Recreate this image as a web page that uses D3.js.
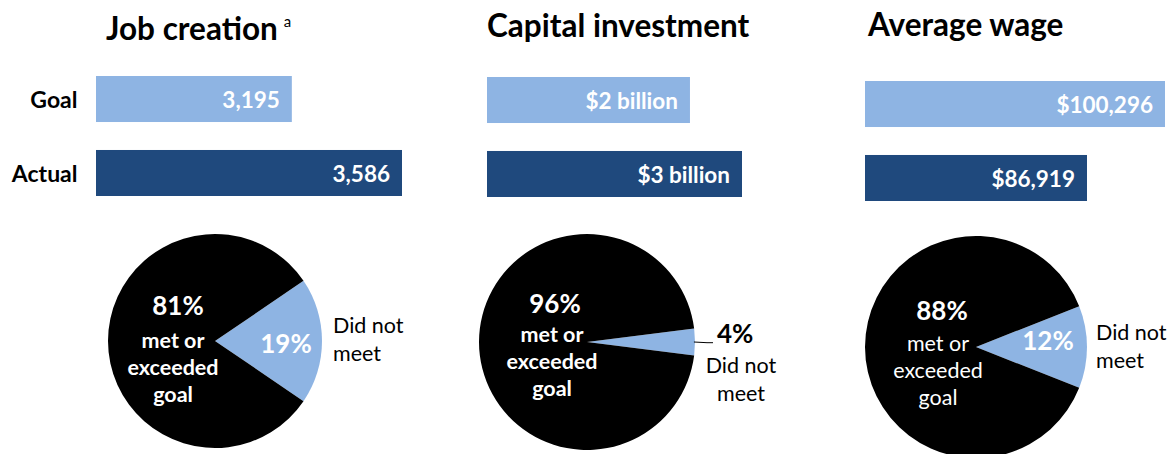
<!DOCTYPE html>
<html>
<head>
<meta charset="utf-8">
<script src="https://cdn.jsdelivr.net/npm/d3@7"></script>
<style>
  html, body { margin: 0; padding: 0; background: #fff; }
  svg { display: block; font-family: Lato, "Open Sans", sans-serif; }
</style>
</head>
<body>
<svg id="chart" width="1168" height="454"></svg>
<script>
// ---------------- data ----------------
const panelTitles = ["Job creation", "Capital investment", "Average wage"];
const titleNotes = ["a", "", ""];
const barCategories = ["Goal", "Actual"];
const goalValues = [3195, 2, 100296];
const actualValues = [3586, 3, 86919];
const goalLabels = ["3,195", "$2 billion", "$100,296"];
const actualLabels = ["3,586", "$3 billion", "$86,919"];
const axisMin = [2500, -1.9, 48850];
const metPct = [81, 96, 88];
const notMetPct = [19, 4, 12];
const metText = ["met or", "exceeded", "goal"];
const notMetText = ["Did not", "meet"];

// ---------------- layout ----------------
const LIGHT = "#8EB4E3", DARK = "#1F497D";
const panelLayout = [
  {titleX: 106, titleY: 40, barX: 96, barW: 306, barY: 76,
   cx: 215, cy: 341, r: 107, pct: [-37, -26], lines: [-42, 7], inBold: true,
   slice: "inside", sliceLbl: [71, 12], dnm: [118, -8], dnmAnchor: "start"},
  {titleX: 487, titleY: 37, barX: 487, barW: 255, barY: 77,
   cx: 587, cy: 342, r: 108, pct: [-32, -29], lines: [-35, 0], inBold: true,
   slice: "outside", sliceLbl: [130, 0.7], dnm: [154, 31], dnmAnchor: "middle"},
  {titleX: 868, titleY: 36, barX: 865, barW: 300, barY: 81,
   cx: 976, cy: 347, r: 111, pct: [-34, -27], lines: [-38, 4], inBold: false,
   slice: "inside", sliceLbl: [72, 3], dnm: [120, -7], dnmAnchor: "start"}
];

const svg = d3.select("#chart");
svg.append("rect").attr("width", 1168).attr("height", 454).attr("fill", "#fff");

// row labels (left of first panel)
const yRow = d3.scaleBand().domain(barCategories)
  .range([panelLayout[0].barY, panelLayout[0].barY + 120]).paddingInner(0.378).paddingOuter(0);
svg.append("g").selectAll("text").data(barCategories).join("text")
  .attr("x", 77.5)
  .attr("y", d => yRow(d) + yRow.bandwidth() / 2)
  .attr("dy", "0.4em")
  .attr("text-anchor", "end")
  .attr("font-weight", 700)
  .attr("font-size", 23)
  .attr("fill", "#000")
  .text(d => d);

panelTitles.forEach((title, i) => {
  const L = panelLayout[i];
  const g = svg.append("g");

  // title
  const t = g.append("text")
    .attr("x", L.titleX).attr("y", L.titleY)
    .attr("font-weight", 700).attr("font-size", 31.5).attr("fill", "#000")
    .text(title);
  if (titleNotes[i]) {
    t.append("tspan").attr("dx", 6).attr("dy", -13)
      .attr("font-weight", 400).attr("font-size", 15).text(titleNotes[i]);
  }

  // bars
  const x = d3.scaleLinear()
    .domain([axisMin[i], d3.max([goalValues[i], actualValues[i]])])
    .range([L.barX, L.barX + L.barW]);
  const y = d3.scaleBand().domain(barCategories)
    .range([L.barY, L.barY + 120]).paddingInner(0.378).paddingOuter(0);
  const rows = [
    {cat: "Goal", v: goalValues[i], lbl: goalLabels[i], c: LIGHT},
    {cat: "Actual", v: actualValues[i], lbl: actualLabels[i], c: DARK}
  ];
  g.selectAll("rect.bar").data(rows).join("rect")
    .attr("class", "bar")
    .attr("x", x(axisMin[i]))
    .attr("y", d => y(d.cat))
    .attr("width", d => x(d.v) - x(axisMin[i]))
    .attr("height", y.bandwidth())
    .attr("fill", d => d.c);
  g.selectAll("text.bl").data(rows).join("text")
    .attr("class", "bl")
    .attr("x", d => x(d.v) - 12)
    .attr("y", d => y(d.cat) + y.bandwidth() / 2)
    .attr("dy", "0.42em")
    .attr("text-anchor", "end")
    .attr("font-weight", 700).attr("font-size", 22.5).attr("fill", "#fff")
    .text(d => d.lbl);

  // pie
  const notMetFrac = notMetPct[i] / (notMetPct[i] + metPct[i]);
  const start = Math.PI / 2 - notMetFrac * Math.PI; // center the small slice at 3 o'clock
  const pie = d3.pie().sort(null).value(d => d.v)
    .startAngle(start).endAngle(start + 2 * Math.PI);
  const slices = pie([{k: "not", v: notMetPct[i]}, {k: "met", v: metPct[i]}]);
  const arc = d3.arc().innerRadius(0).outerRadius(L.r);
  const pg = g.append("g").attr("transform", `translate(${L.cx},${L.cy})`);
  pg.selectAll("path").data(slices).join("path")
    .attr("d", arc)
    .attr("fill", d => d.data.k === "met" ? "#000" : LIGHT);

  // met labels
  pg.append("text")
    .attr("x", L.pct[0]).attr("y", L.pct[1])
    .attr("text-anchor", "middle").attr("font-weight", 700).attr("font-size", 26)
    .attr("fill", "#fff").text(metPct[i] + "%");
  pg.selectAll("text.met").data(metText).join("text")
    .attr("class", "met")
    .attr("x", L.lines[0]).attr("y", (d, j) => L.lines[1] + j * 27)
    .attr("text-anchor", "middle").attr("font-weight", L.inBold ? 700 : 400)
    .attr("font-size", 21.5).attr("fill", "#fff").text(d => d);

  // not-met slice label
  if (L.slice === "inside") {
    pg.append("text")
      .attr("x", L.sliceLbl[0]).attr("y", L.sliceLbl[1])
      .attr("text-anchor", "middle").attr("font-weight", 700).attr("font-size", 26)
      .attr("fill", "#fff").text(notMetPct[i] + "%");
  } else {
    const s = slices[0];
    const mid = (s.startAngle + s.endAngle) / 2;
    const p0 = [Math.sin(mid) * L.r * 0.99, -Math.cos(mid) * L.r * 0.99];
    pg.append("path")
      .attr("d", d3.line()([p0, [L.r + 12, 0.7], [L.r + 18, 0.7]]))
      .attr("fill", "none").attr("stroke", "#000").attr("stroke-width", 1);
    pg.append("text")
      .attr("x", L.r + 22).attr("y", L.sliceLbl[1])
      .attr("text-anchor", "start").attr("font-weight", 700).attr("font-size", 26)
      .attr("fill", "#000").text(notMetPct[i] + "%");
  }
  pg.selectAll("text.dnm").data(notMetText).join("text")
    .attr("class", "dnm")
    .attr("x", L.dnm[0]).attr("y", (d, j) => L.dnm[1] + j * 27.5)
    .attr("text-anchor", L.dnmAnchor).attr("font-weight", 400)
    .attr("font-size", 21.5).attr("fill", "#000").text(d => d);
});
</script>
</body>
</html>
